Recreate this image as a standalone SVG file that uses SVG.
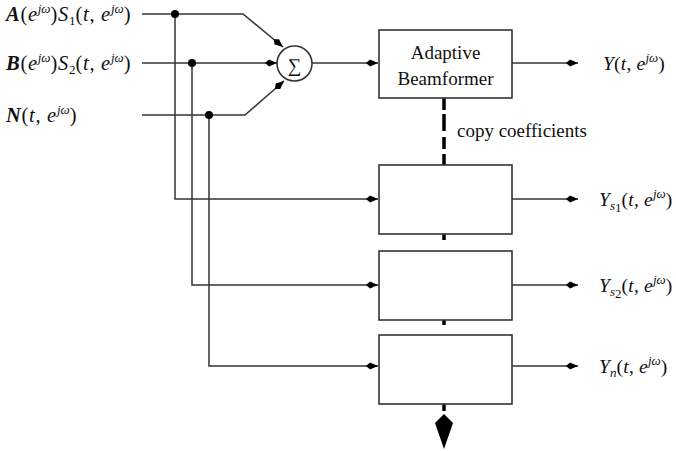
<svg xmlns="http://www.w3.org/2000/svg" width="676" height="451" viewBox="0 0 676 451">
<style>
.ln{fill:none;stroke:#333;stroke-width:1.5}
.bx{fill:#fff;stroke:#333;stroke-width:1.6}
text{font-family:'Liberation Serif','Times New Roman',serif;font-size:19px;fill:#111}
.m{font-size:20.5px;letter-spacing:0.7px}
.r{font-size:19.5px;letter-spacing:0.2px}
.i{font-style:italic}
.b{font-weight:bold;font-style:italic}
.sup{font-size:13px;font-style:italic;letter-spacing:0}
.sub{font-size:13px;letter-spacing:0}
.dot{fill:#000}
.dash{stroke:#000;stroke-width:3.5;fill:none}
</style>
<defs>
<marker id="ah" markerUnits="userSpaceOnUse" markerWidth="14" markerHeight="10" refX="13" refY="5" orient="auto" viewBox="0 0 14 10">
<path d="M13,5 L5,1.5 L1,5 L5,8.5 Z" fill="#000"/>
</marker>
</defs>
<g id="connectors">
<polyline class="ln" points="142,14 243,14 283,47" marker-end="url(#ah)"/>
<polyline class="ln" points="142,63 277,63" marker-end="url(#ah)"/>
<polyline class="ln" points="142,115 245,115 284,81" marker-end="url(#ah)"/>
<line class="ln" x1="312" y1="63" x2="378" y2="63" marker-end="url(#ah)"/>
<line class="ln" x1="512" y1="63" x2="578" y2="63" marker-end="url(#ah)"/>
<polyline class="ln" points="175,14 175,199 378,199" marker-end="url(#ah)"/>
<polyline class="ln" points="192,63 192,285 378,285" marker-end="url(#ah)"/>
<polyline class="ln" points="209,115 209,366 378,366" marker-end="url(#ah)"/>
<line class="ln" x1="512" y1="199" x2="578" y2="199" marker-end="url(#ah)"/>
<line class="ln" x1="512" y1="285" x2="578" y2="285" marker-end="url(#ah)"/>
<line class="ln" x1="512" y1="366" x2="578" y2="366" marker-end="url(#ah)"/>
<circle class="dot" cx="175" cy="14" r="4"/>
<circle class="dot" cx="192" cy="63" r="4"/>
<circle class="dot" cx="209" cy="115" r="4"/>
<path class="dash" d="M444,98 V110 M444,114 V131 M444,137 V149 M444,154 V165 M444,234 V240 M444,320 V325 M444,404 V411"/>
<path d="M444,414 L453,423 L444,449 L435,423 Z" fill="#000"/>
</g>
<g id="sum">
<circle cx="294.5" cy="63.5" r="17.5" fill="#fff" stroke="#333" stroke-width="1.6"/>
<text x="294.5" y="71.5" text-anchor="middle" font-size="24">∑</text>
</g>
<g id="beamformer">
<rect class="bx" x="379" y="30" width="133" height="68"/>
<text x="445.5" y="59" text-anchor="middle">Adaptive</text>
<text x="445.5" y="85" text-anchor="middle">Beamformer</text>
</g>
<g id="box1"><rect class="bx" x="379" y="165" width="133" height="69"/></g>
<g id="box2"><rect class="bx" x="379" y="251" width="133" height="69"/></g>
<g id="box3"><rect class="bx" x="379" y="335" width="133" height="69"/></g>
<g id="labels">
<text class="m" x="6" y="21"><tspan class="b">A</tspan>(<tspan class="i">e</tspan><tspan class="sup" dy="-8">jω</tspan><tspan dy="8">)</tspan><tspan class="i">S</tspan><tspan class="sub" dy="4">1</tspan><tspan dy="-4">(</tspan><tspan class="i">t</tspan>, <tspan class="i">e</tspan><tspan class="sup" dy="-8">jω</tspan><tspan dy="8">)</tspan></text>
<text class="m" x="6" y="70"><tspan class="b">B</tspan>(<tspan class="i">e</tspan><tspan class="sup" dy="-8">jω</tspan><tspan dy="8">)</tspan><tspan class="i">S</tspan><tspan class="sub" dy="4">2</tspan><tspan dy="-4">(</tspan><tspan class="i">t</tspan>, <tspan class="i">e</tspan><tspan class="sup" dy="-8">jω</tspan><tspan dy="8">)</tspan></text>
<text class="m" x="6" y="122"><tspan class="b">N</tspan>(<tspan class="i">t</tspan>, <tspan class="i">e</tspan><tspan class="sup" dy="-8">jω</tspan><tspan dy="8">)</tspan></text>
<text x="457" y="137" font-size="18">copy coefficients</text>
<text class="r" x="603" y="70"><tspan class="i">Y</tspan>(<tspan class="i">t</tspan>, <tspan class="i">e</tspan><tspan class="sup" dy="-8">jω</tspan><tspan dy="8">)</tspan></text>
<text class="r" x="599" y="206"><tspan class="i">Y</tspan><tspan class="sup" font-size="11" dy="4">s</tspan><tspan class="sub" font-size="8" dy="2">1</tspan><tspan dy="-6">(</tspan><tspan class="i">t</tspan>, <tspan class="i">e</tspan><tspan class="sup" dy="-8">jω</tspan><tspan dy="8">)</tspan></text>
<text class="r" x="599" y="292"><tspan class="i">Y</tspan><tspan class="sup" font-size="11" dy="4">s</tspan><tspan class="sub" font-size="8" dy="2">2</tspan><tspan dy="-6">(</tspan><tspan class="i">t</tspan>, <tspan class="i">e</tspan><tspan class="sup" dy="-8">jω</tspan><tspan dy="8">)</tspan></text>
<text class="r" x="599" y="373"><tspan class="i">Y</tspan><tspan class="sup" font-size="12" dy="4">n</tspan><tspan dy="-4">(</tspan><tspan class="i">t</tspan>, <tspan class="i">e</tspan><tspan class="sup" dy="-8">jω</tspan><tspan dy="8">)</tspan></text>
</g>
</svg>
